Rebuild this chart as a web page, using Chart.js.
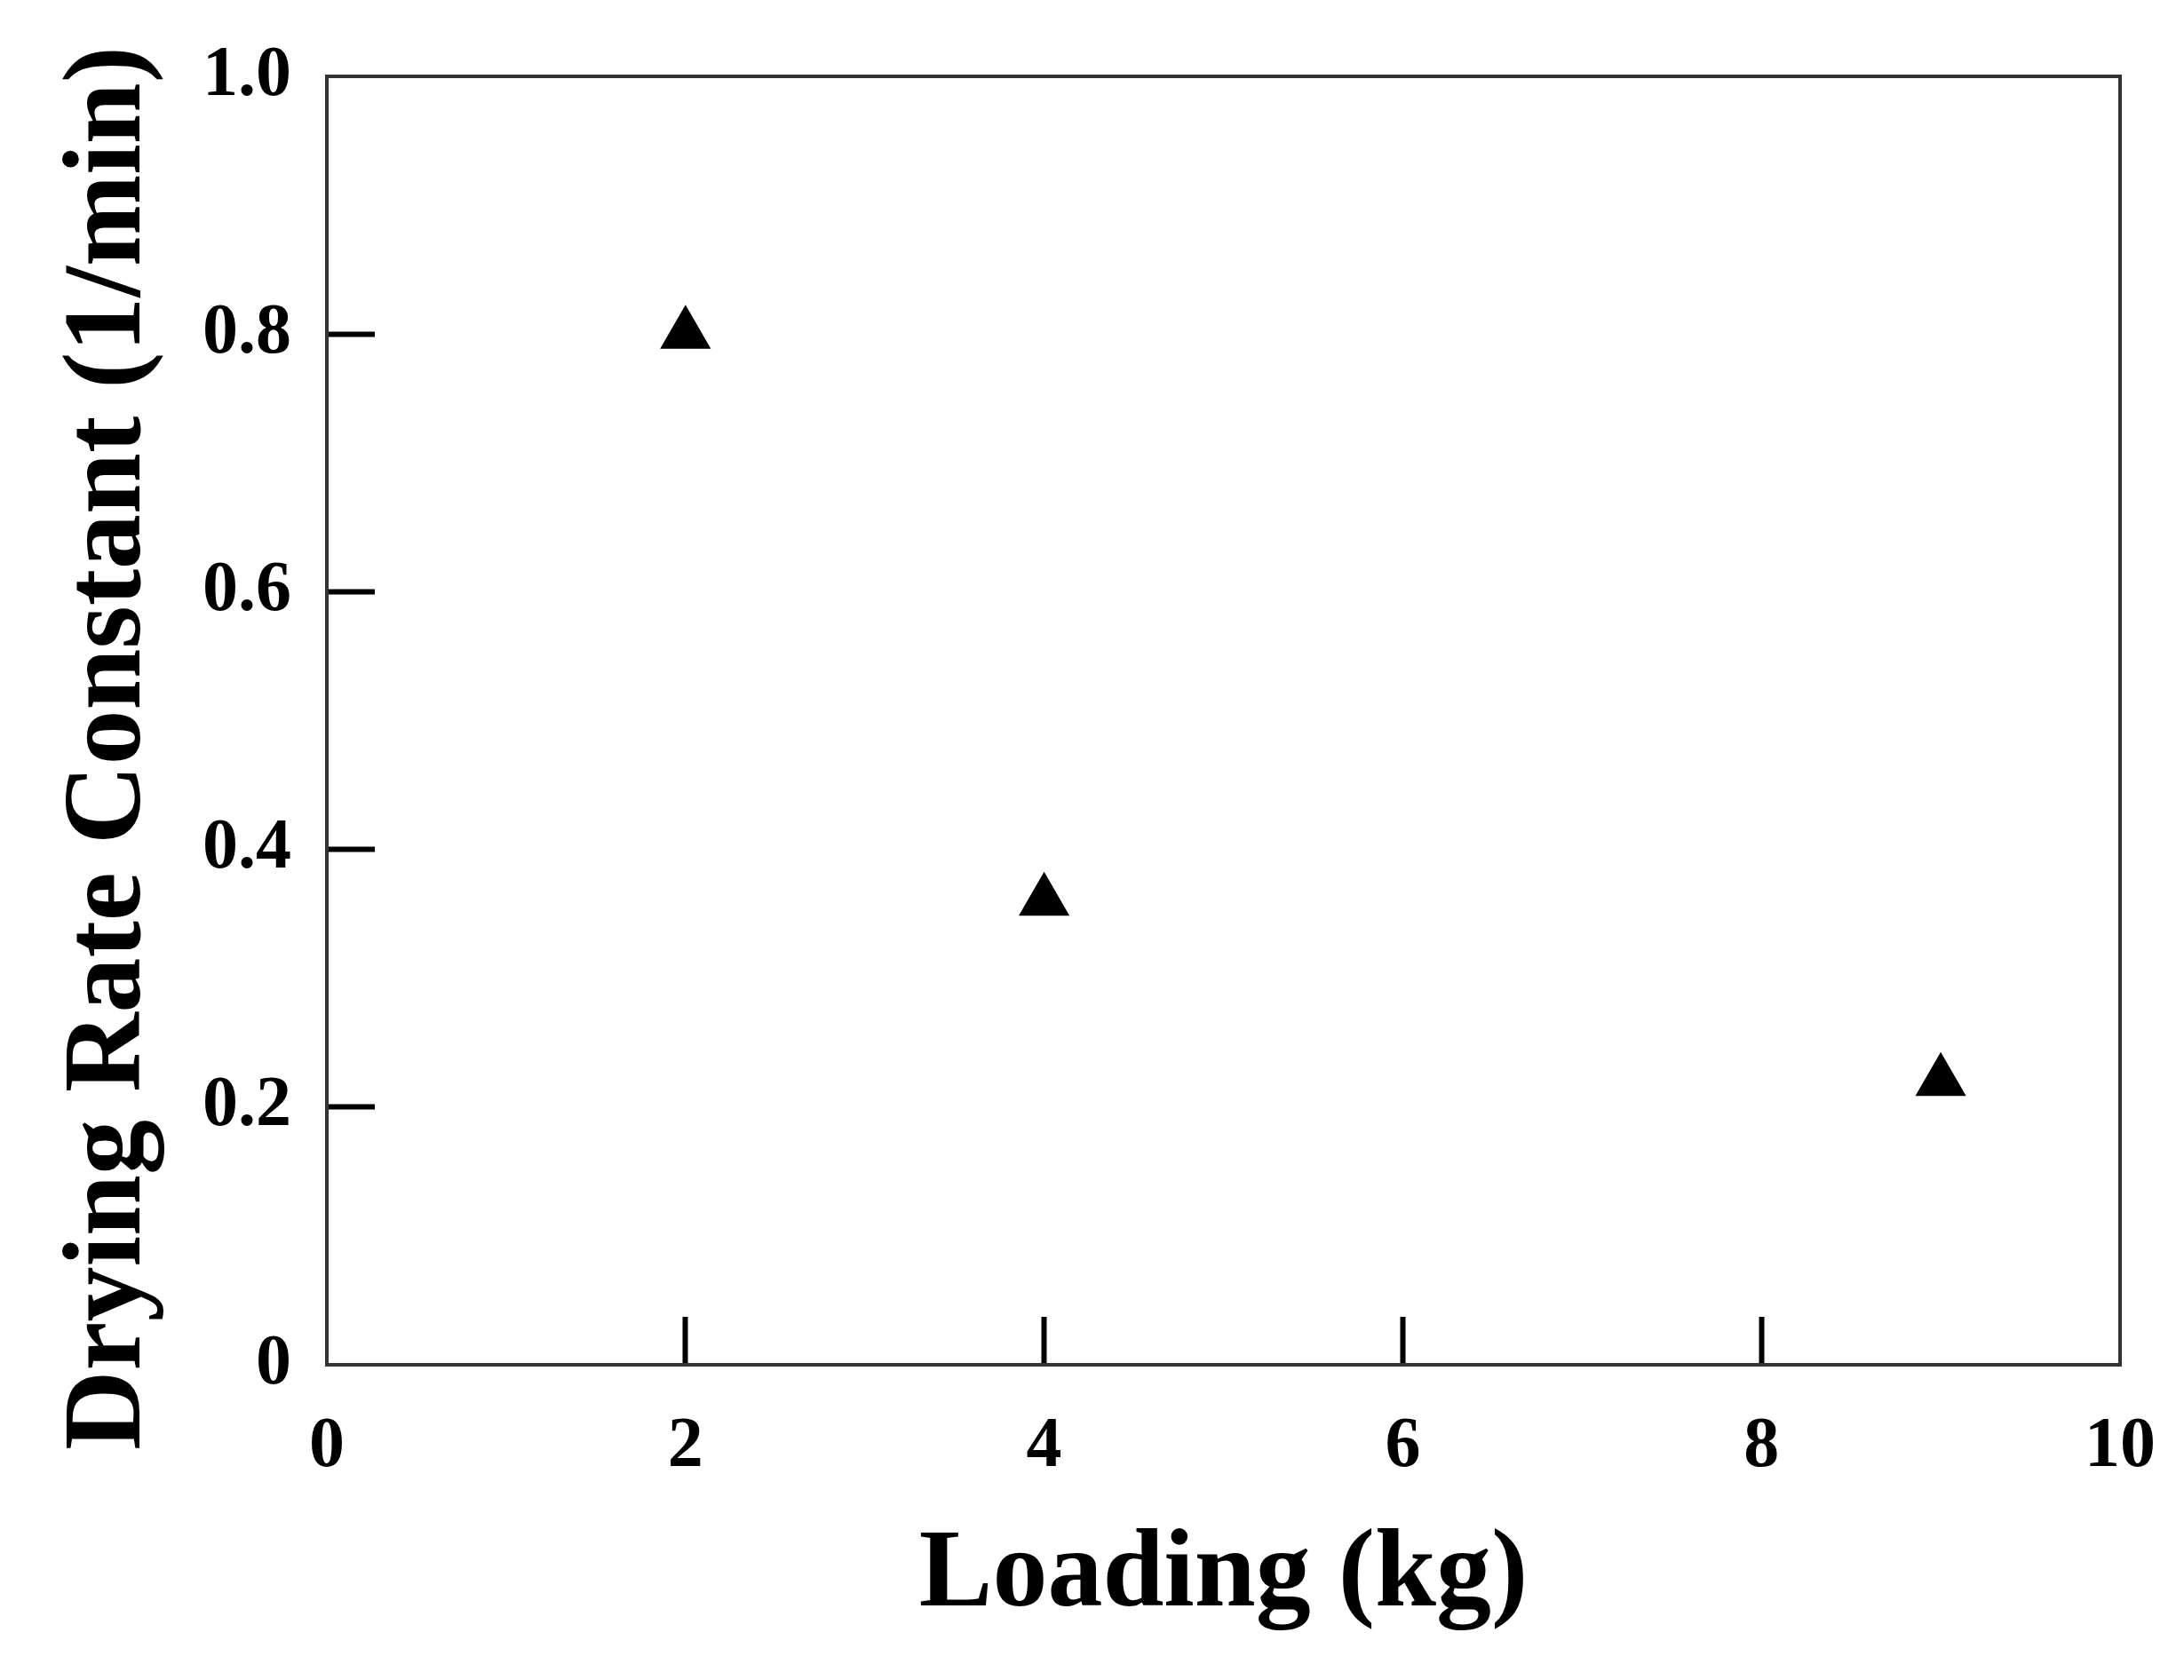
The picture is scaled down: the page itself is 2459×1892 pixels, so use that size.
<!DOCTYPE html>
<html>
<head>
<meta charset="utf-8">
<title>Drying Rate Constant vs Loading</title>
<script src="https://cdn.jsdelivr.net/npm/chart.js@4/dist/chart.umd.min.js"></script>
<style>
  body { margin: 0; background: #fff; }
  canvas { display: block; }
</style>
</head>
<body>
<canvas id="myChart" width="2459" height="1892"></canvas>
<script>
// data
const loadingKg = [2, 4, 9];
const rateConstant = [0.8, 0.36, 0.22];

const xTickValues = [0, 2, 4, 6, 8, 10];
const yTickValues = [0, 0.2, 0.4, 0.6, 0.8, 1.0];

const xTitle = 'Loading (kg)';
const yTitle = 'Drying Rate Constant (1/min)';

const serif = 'Liberation Serif, Times New Roman, serif';
const frameColor = '#333';

// the box round the plot (top and right sides have no axis)
const framePlugin = {
    id: 'frame',
    beforeDatasetsDraw(chart) {
        const { ctx, chartArea: a } = chart;
        ctx.save();
        ctx.strokeStyle = frameColor;
        ctx.lineWidth = 4;
        ctx.strokeRect(a.left, a.top, a.right - a.left, a.bottom - a.top);
        ctx.restore();
    }
};

// only inner ticks are drawn, not at the ends
function innerTick(values) {
    const lo = values[0], hi = values[values.length - 1];
    return c => (c.tick && (Math.abs(c.tick.value - lo) < 1e-9 || Math.abs(c.tick.value - hi) < 1e-9))
        ? 'rgba(0,0,0,0)' : '#000';
}

const ctx = document.getElementById('myChart').getContext('2d');
new Chart(ctx, {
    type: 'scatter',
    data: {
        datasets: [{
            data: loadingKg.map((x, i) => ({ x: x, y: rateConstant[i] })),
            pointStyle: 'triangle',
            pointRadius: 31,
            pointBorderWidth: 2,
            backgroundColor: '#000',
            borderColor: '#000'
        }]
    },
    options: {
        responsive: false,
        animation: false,
        layout: { padding: { top: 86, right: 72, left: 0, bottom: 0 } },
        plugins: {
            legend: { display: false },
            tooltip: { enabled: false }
        },
        scales: {
            x: {
                type: 'linear',
                min: xTickValues[0],
                max: xTickValues[xTickValues.length - 1],
                afterFit: s => {
                    s.height = 355;
                    s.paddingLeft = 0;
                    s.paddingRight = 0;
                },
                afterBuildTicks: s => { s.ticks = xTickValues.map(v => ({ value: v })); },
                border: { color: frameColor, width: 4 },
                grid: {
                    drawOnChartArea: false,
                    drawTicks: true,
                    tickLength: -54,
                    tickWidth: 6,
                    tickColor: innerTick(xTickValues)
                },
                ticks: {
                    padding: 99,
                    color: '#000',
                    maxRotation: 0,
                    font: { family: serif, size: 80, weight: 'bold' },
                    callback: v => String(v)
                },
                title: {
                    display: true,
                    text: xTitle,
                    color: '#000',
                    padding: { top: 0, bottom: 42 },
                    font: { family: serif, size: 124, weight: 'bold', lineHeight: 1.2 }
                }
            },
            y: {
                type: 'linear',
                min: yTickValues[0],
                max: yTickValues[yTickValues.length - 1],
                afterFit: s => {
                    s.width = 368;
                    s.paddingTop = 0;
                    s.paddingBottom = 0;
                },
                afterBuildTicks: s => { s.ticks = yTickValues.map(v => ({ value: v })); },
                border: { color: frameColor, width: 4 },
                grid: {
                    drawOnChartArea: false,
                    drawTicks: true,
                    tickLength: -54,
                    tickWidth: 6,
                    tickColor: innerTick(yTickValues)
                },
                ticks: {
                    padding: 94,
                    color: '#000',
                    font: { family: serif, size: 80, weight: 'bold' },
                    callback: v => v === 0 ? '0' : v.toFixed(1)
                },
                title: {
                    display: true,
                    // two trailing spaces push the centred title a little lower, as in the figure
                    text: yTitle + '  ',
                    color: '#000',
                    padding: { top: 51, bottom: 0 },
                    font: { family: serif, size: 124, weight: 'bold', lineHeight: 1.2 }
                }
            }
        }
    },
    plugins: [framePlugin]
});
</script>
</body>
</html>
